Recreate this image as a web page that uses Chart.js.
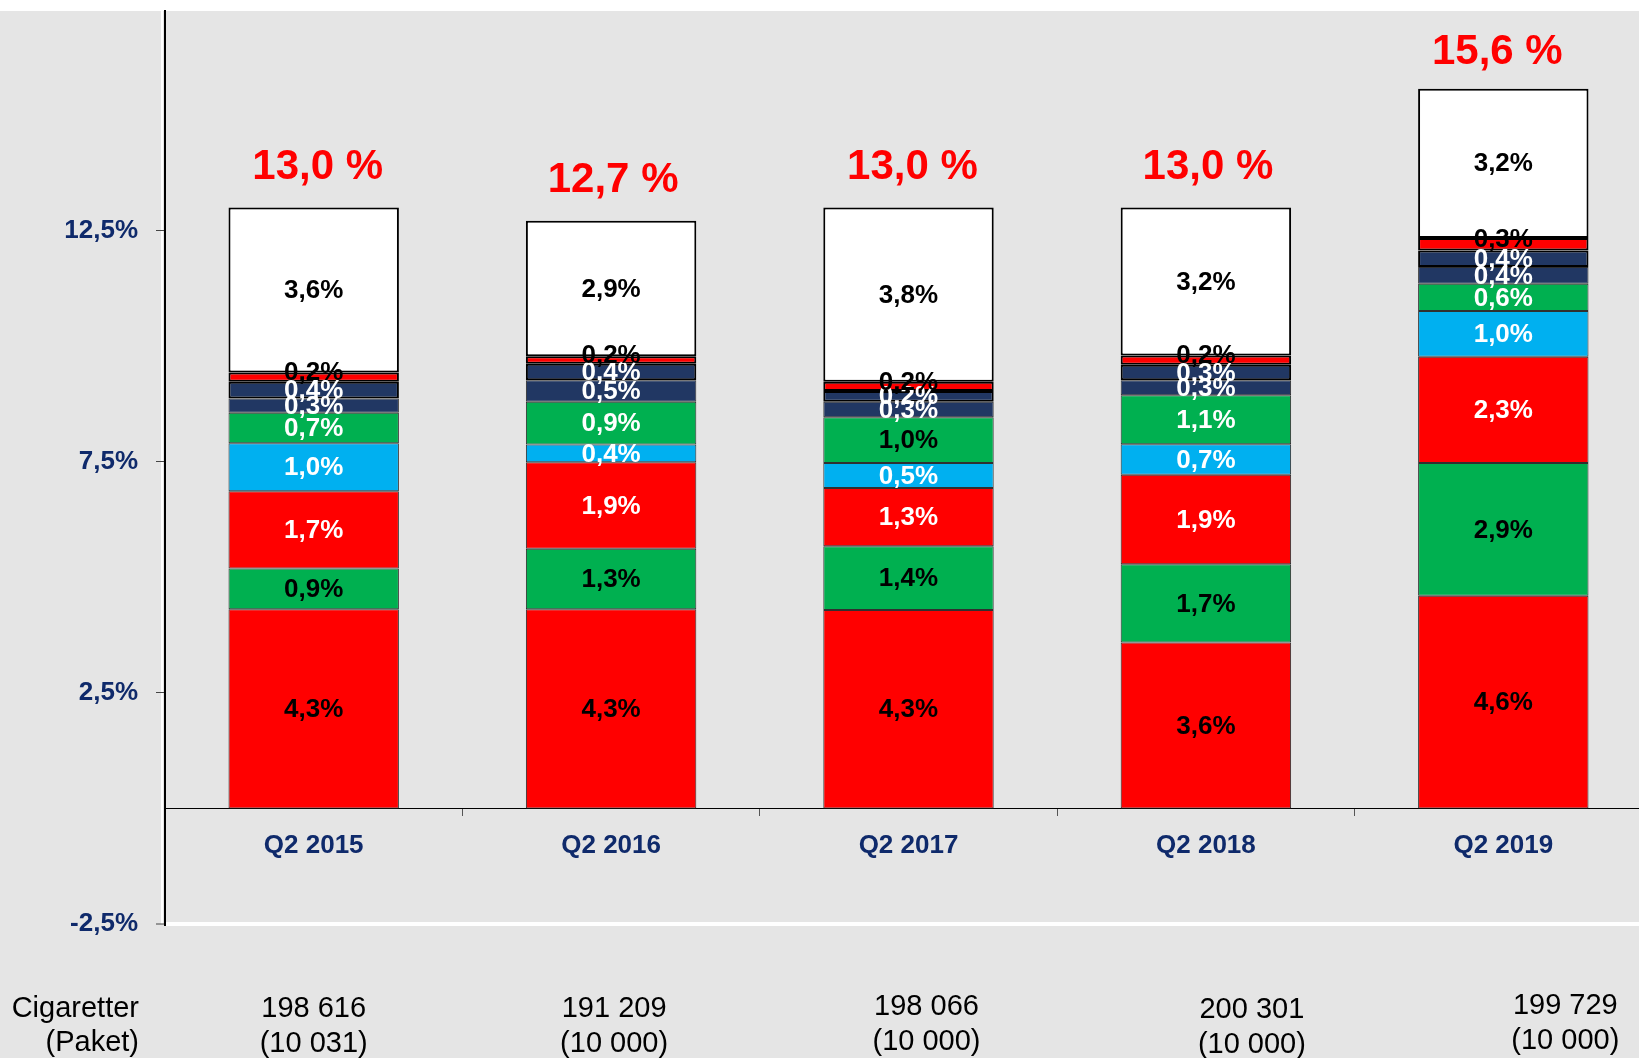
<!DOCTYPE html>
<html><head><meta charset="utf-8">
<script src="https://cdn.jsdelivr.net/npm/chart.js@4.4.0/dist/chart.umd.min.js"></script>
<style>
html,body{margin:0;padding:0;overflow:hidden;background:#e5e5e5;}
#wrap{position:absolute;left:0;top:0;width:1660px;height:1058px;}
</style>
</head><body><div id="wrap"><canvas id="c" width="1660" height="1058"></canvas></div>
<script>
// ---- data ----
const categories = ['Q2 2015', 'Q2 2016', 'Q2 2017', 'Q2 2018', 'Q2 2019'];
const baseRed    = [4.31, 4.31, 4.29, 3.59, 4.60];
const lowerGreen = [0.88, 1.31, 1.38, 1.69, 2.87];
const midRed     = [1.67, 1.87, 1.26, 1.94, 2.30];
const lightBlue  = [1.04, 0.38, 0.54, 0.66, 0.99];
const upperGreen = [0.66, 0.93, 0.99, 1.06, 0.59];
const navyLower  = [0.31, 0.46, 0.34, 0.32, 0.36];
const navyUpper  = [0.36, 0.36, 0.23, 0.34, 0.36];
const topRed     = [0.20, 0.16, 0.20, 0.20, 0.27];
const whiteTop   = [3.57, 2.93, 3.77, 3.20, 3.23];
const yTicks = [-2.5, 2.5, 7.5, 12.5];
const packets = ['198 616', '191 209', '198 066', '200 301', '199 729'];
const samples = ['(10 031)', '(10 000)', '(10 000)', '(10 000)', '(10 000)'];
const footerTitle = ['Cigaretter', '(Paket)'];

// ---- styles ----
const RED = '#ff0000', GREEN = '#00b050', BLUE = '#00b0f0', NAVY = '#213763', WHITE = '#ffffff';
const AXIS_TXT = '#0f2a6b';
const W = '#ffffff', K = '#000000';
const footerDx = [0, 3, 18, 46, 62];
const footerDy = [0, 0, -2, 1, -3];
const totalGap = [40, 40, 40, 40, 36];
const totalDx = [4, 2, 4, 2, -6];

function ds(data, color, labelColor, thick, dy) {
  return {
    data: data, backgroundColor: color,
    borderColor: thick ? '#000000' : '#303030',
    borderWidth: thick ? 2 : 1,
    borderSkipped: false,
    labelColor: labelColor, labelDy: dy || 0
  };
}

const datasets = [
  ds(baseRed, RED, K),
  ds(lowerGreen, GREEN, K),
  ds(midRed, RED, W),
  ds(lightBlue, BLUE, W),
  ds(upperGreen, GREEN, [W, W, K, W, W]),
  ds(navyLower, NAVY, W),
  ds(navyUpper, NAVY, W, true),
  ds(topRed, RED, K, true, -5),
  ds(whiteTop, WHITE, K, true)
];

const fmt = v => v.toFixed(1).replace('.', ',');

const bgPlugin = {
  id: 'bg',
  beforeDraw(chart) {
    const c = chart.ctx, a = chart.chartArea;
    c.save();
    c.fillStyle = '#e5e5e5';
    c.fillRect(0, 0, chart.width, chart.height);
    c.fillStyle = '#ffffff';
    c.fillRect(0, 0, chart.width, a.top);
    c.fillRect(a.left - 4, a.top, 2, a.bottom - a.top);
    c.restore();
  }
};

const labelPlugin = {
  id: 'lbls',
  afterDatasetsDraw(chart) {
    const c = chart.ctx;
    c.save();
    c.textAlign = 'center';
    c.textBaseline = 'middle';
    c.font = 'bold 26px "Liberation Sans", Arial, sans-serif';
    chart.data.datasets.forEach((d, di) => {
      const meta = chart.getDatasetMeta(di);
      meta.data.forEach((el, i) => {
        const col = Array.isArray(d.labelColor) ? d.labelColor[i] : d.labelColor;
        c.fillStyle = col;
        c.fillText(fmt(d.data[i]) + '%', el.x, (el.y + el.base) / 2 + d.labelDy + 1);
      });
    });
    // totals
    const last = chart.getDatasetMeta(chart.data.datasets.length - 1);
    c.font = 'bold 42px "Liberation Sans", Arial, sans-serif';
    c.fillStyle = RED;
    last.data.forEach((el, i) => {
      let s = 0;
      chart.data.datasets.forEach(d => { s += d.data[i]; });
      c.fillText(fmt(s) + ' %', el.x + totalDx[i], el.y - totalGap[i]);
    });
    // footer
    c.font = '29px "Liberation Sans", Arial, sans-serif';
    c.fillStyle = '#000000';
    c.textAlign = 'right';
    c.fillText(footerTitle[0], 139, 1009);
    c.fillText(footerTitle[1], 139, 1043);
    c.textAlign = 'center';
    const xs = chart.scales.x;
    packets.forEach((p, i) => {
      const x = xs.getPixelForValue(i) + footerDx[i];
      c.fillText(p, x, 1009 + footerDy[i]);
      c.fillText(samples[i], x, 1044 + footerDy[i]);
    });
    c.restore();
  }
};

new Chart(document.getElementById('c'), {
  type: 'bar',
  data: { labels: categories, datasets: datasets },
  options: {
    responsive: false,
    animation: false,
    events: [],
    layout: { padding: { left: 0, top: 11, right: 8, bottom: 134 } },
    datasets: { bar: { barPercentage: 0.573, categoryPercentage: 1 } },
    plugins: { legend: { display: false }, tooltip: { enabled: false } },
    scales: {
      x: {
        stacked: true,
        position: { y: 0 },
        afterFit(scale) { scale.paddingLeft = 0; scale.paddingRight = 0; scale.paddingTop = 0; scale.paddingBottom = 0; },
        border: { display: true, color: '#000000', width: 1 },
        grid: { display: true, drawOnChartArea: false, drawTicks: true, tickLength: 7, color: '#555555', offset: true },
        ticks: { color: AXIS_TXT, font: { family: '"Liberation Sans", Arial, sans-serif', size: 26, weight: 'bold' }, padding: 15, maxRotation: 0 }
      },
      y: {
        stacked: true,
        min: -2.5, max: 17.25,
        afterFit(scale) { scale.width = 165; scale.paddingTop = 0; scale.paddingBottom = 0; },
        afterBuildTicks(scale) { scale.ticks = yTicks.map(v => ({ value: v })); },
        border: { display: true, color: '#000000', width: 2 },
        grid: {
          display: true, drawOnChartArea: true, drawTicks: true, tickLength: 9,
          color: ctx => (ctx.tick && ctx.tick.value === -2.5) ? '#ffffff' : 'rgba(0,0,0,0)',
          lineWidth: ctx => (ctx.tick && ctx.tick.value === -2.5) ? 4 : 1,
          tickColor: '#444444', tickWidth: 1
        },
        ticks: {
          color: AXIS_TXT, padding: 18,
          font: { family: '"Liberation Sans", Arial, sans-serif', size: 26, weight: 'bold' },
          callback: v => fmt(v) + '%'
        }
      }
    }
  },
  plugins: [bgPlugin, labelPlugin]
});
</script>
</body></html>
